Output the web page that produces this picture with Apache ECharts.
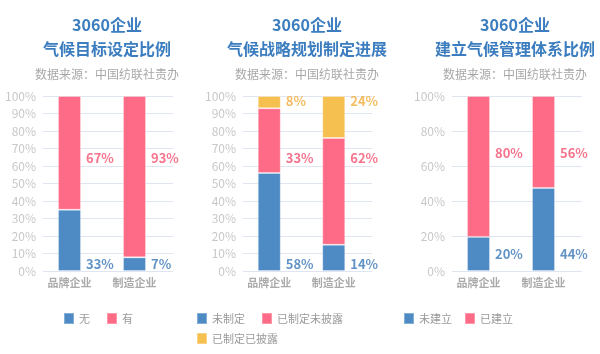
<!DOCTYPE html>
<html>
<head>
<meta charset="utf-8">
<script src="https://cdn.jsdelivr.net/npm/echarts@6/dist/echarts.min.js"></script>
<style>
html,body{margin:0;padding:0;background:#fff;}
#main{width:600px;height:354px;}
</style>
</head>
<body>
<div id="main"></div>
<script>
var categories = ['品牌企业', '制造企业'];
// 图1 气候目标设定比例（柱高按图读取，标签为原图文字）
var goalNone = [35, 7.8];
var goalHas = [65, 92.2];
var goalNoneText = ['33%', '7%'];
var goalHasText = ['67%', '93%'];
// 图2 气候战略规划制定进展
var planNone = [56, 15];
var planHidden = [37, 61];
var planOpen = [7, 24];
var planNoneText = ['58%', '14%'];
var planHiddenText = ['33%', '62%'];
var planOpenText = ['8%', '24%'];
// 图3 建立气候管理体系比例
var sysNone = [19.5, 47.5];
var sysHas = [80.5, 52.5];
var sysNoneText = ['20%', '44%'];
var sysHasText = ['80%', '56%'];

var titles = ['3060企业\n气候目标设定比例', '3060企业\n气候战略规划制定进展', '3060企业\n建立气候管理体系比例'];
var source = '数据来源：中国纺联社责办';

var BLUE = '#4e8bc4', PINK = '#fe6b86', GOLD = '#f5c04f';
var BLUE_T = '#3b78b8', PINK_T = '#f4506f', GOLD_T = '#f2ab38';
var FONT = '"Noto Sans CJK SC", sans-serif';

var chart = echarts.init(document.getElementById('main'));

function bar(name, data, color, gi){
	return {
		name: name, type: 'bar', stack: 's' + gi, data: data,
		xAxisIndex: gi, yAxisIndex: gi,
		barWidth: 23, barGap: '0%',
		itemStyle: {color: color, borderColor: 'rgba(255,255,255,0.3)', borderWidth: 1},
		emphasis: {disabled: true}
	};
}
//占位柱，让彩色柱偏左
function spacer(gi){
	return {
		type: 'bar', stack: 'pad' + gi, data: ['-', '-'],
		xAxisIndex: gi, yAxisIndex: gi,
		barWidth: 12, barGap: '0%', silent: true
	};
}
//数值标签（固定高度位置）
function tag(texts, level, color, gi){
	return {
		type: 'scatter', xAxisIndex: gi, yAxisIndex: gi,
		symbolSize: 1, itemStyle: {color: 'rgba(0,0,0,0)'}, silent: true,
		data: texts.map(function(t, i){ return [i, level]; }),
		label: {
			show: true, position: 'right', distance: 10,
			formatter: function(p){ return texts[p.dataIndex]; },
			color: color, fontSize: 13, fontWeight: 'bold', fontFamily: FONT
		},
		z: 5
	};
}

var grids = [
	{left: 43, width: 130, top: 96, bottom: 83},
	{left: 243, width: 129, top: 96, bottom: 83},
	{left: 452, width: 130, top: 96, bottom: 83}
];
var titleX = [102, 302, 510];
var steps = [10, 10, 20];

var option = {
	animation: false,
	textStyle: {fontFamily: FONT},
	title: [],
	legend: [],
	grid: grids,
	xAxis: [],
	yAxis: [],
	series: []
};

titleX.forEach(function(x, i){
	option.title.push({
		text: titles[i], left: x, top: 8, textAlign: 'center',
		textStyle: {fontSize: 16, fontWeight: 'bold', color: '#3b7dbf', lineHeight: 24, fontFamily: FONT}
	});
	option.title.push({
		text: source, left: x, top: 63, textAlign: 'center',
		textStyle: {fontSize: 12, fontWeight: 'normal', color: '#a8a8a8', fontFamily: FONT}
	});
	option.xAxis.push({
		type: 'category', gridIndex: i, data: categories,
		axisLine: {show: false}, axisTick: {show: false},
		axisLabel: {color: '#aaa', fontSize: 11, fontWeight: 'bold', margin: 6, padding: [0, 12, 0, 0]}
	});
	option.yAxis.push({
		type: 'value', gridIndex: i, min: 0, max: 100, interval: steps[i],
		axisLine: {show: false}, axisTick: {show: false},
		axisLabel: {color: '#c8c8c8', fontSize: 12, margin: 7, formatter: '{value}%'},
		splitLine: {lineStyle: {color: '#e0e6f1'}}
	});
});

var legendBase = {
	top: 307, itemWidth: 10, itemHeight: 11, itemGap: 16,
	icon: 'rect', textStyle: {color: '#999', fontSize: 11}
};
option.legend.push(Object.assign({}, legendBase, {left: 58, data: ['无', '有']}));
option.legend.push(Object.assign({}, legendBase, {left: 191, data: ['未制定', '已制定未披露']}));
option.legend.push(Object.assign({}, legendBase, {left: 191, top: 327, data: ['已制定已披露']}));
option.legend.push(Object.assign({}, legendBase, {left: 398, itemGap: 12, data: ['未建立', '已建立']}));

option.series.push(
	bar('无', goalNone, BLUE, 0), bar('有', goalHas, PINK, 0), spacer(0),
	tag(goalNoneText, 4, BLUE_T, 0), tag(goalHasText, 64.5, PINK_T, 0),

	bar('未制定', planNone, BLUE, 1), bar('已制定未披露', planHidden, PINK, 1), bar('已制定已披露', planOpen, GOLD, 1), spacer(1),
	tag(planNoneText, 4, BLUE_T, 1), tag(planHiddenText, 64.5, PINK_T, 1), tag(planOpenText, 97, GOLD_T, 1),

	bar('未建立', sysNone, BLUE, 2), bar('已建立', sysHas, PINK, 2), spacer(2),
	tag(sysNoneText, 9.7, BLUE_T, 2), tag(sysHasText, 67.5, PINK_T, 2)
);

chart.setOption(option);
</script>
</body>
</html>
